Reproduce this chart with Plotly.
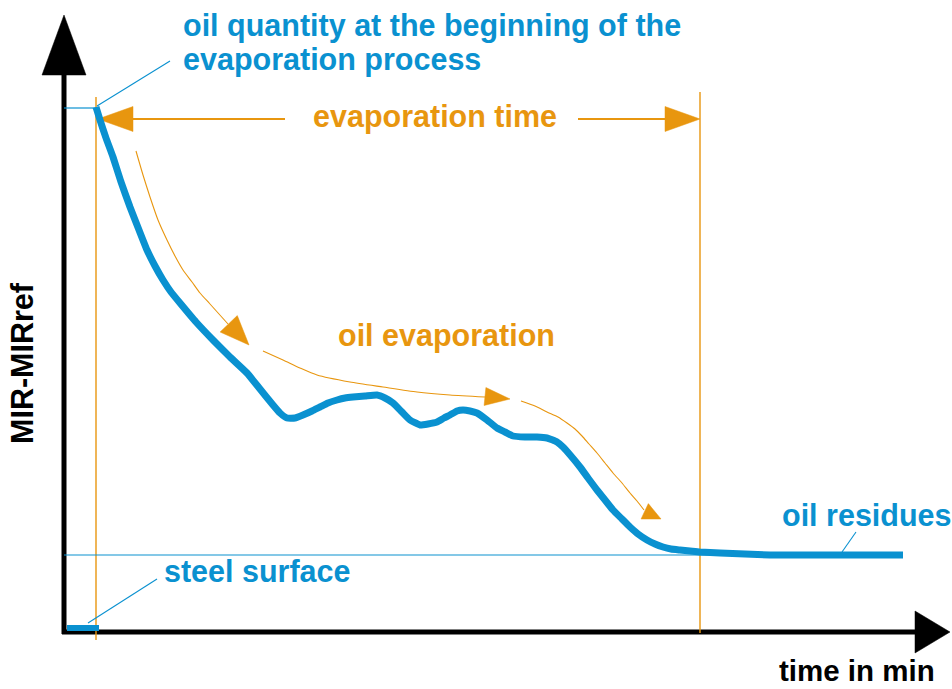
import numpy as np
import plotly.graph_objects as go

# ---- schematic data (arbitrary units: 1 unit of time / signal) ----
# MIR-MIRref signal during an oil-evaporation run
time = [32, 36, 42, 49, 57, 66, 75, 83, 91, 99, 107, 116, 132, 149, 166, 183,
        196, 209, 216, 223, 231, 239, 248, 256, 264, 273, 281, 289, 301, 313,
        321, 329, 338, 346, 356, 364, 373, 380, 386, 393, 399, 406, 413, 423,
        433, 441, 449, 461, 473, 483, 493, 499, 507, 516, 524, 533, 541, 549,
        558, 566, 574, 583, 591, 599, 607, 616, 626, 636, 656, 681, 706, 736,
        786, 839]
mir = [525, 512, 494, 475, 450, 425, 402, 382, 366, 352, 340, 329, 310, 292,
       275, 259, 243, 227, 219, 214, 214, 217, 221, 225, 229, 232, 234, 235,
       236, 237, 234, 229, 220, 212, 207, 208, 210, 214, 217, 221, 222, 221,
       219, 212, 204, 200, 196, 195, 195, 194, 190, 185, 176, 165, 154, 142,
       132, 122, 113, 105, 98, 92, 88, 85, 83, 82, 81, 80, 79, 78, 77, 77,
       77, 77]

# bare steel reference (before oil is applied)
steel_time = [3, 35]
steel_mir = [4, 4]

# characteristic levels and times
start_level = 524          # oil quantity at the beginning
residue_level = 77         # steel surface / oil residue level
evap_start = 32
evap_end = 636

# guide-arrow paths (time, signal)
guide_a_t = [72, 79, 86, 94, 103, 111, 119, 128, 136, 146, 164]
guide_a_m = [481, 457, 435, 412, 392, 376, 362, 350, 339, 328, 308]
guide_b_t = [199, 219, 236, 253, 286, 319, 353, 386, 421]
guide_b_m = [281, 272, 264, 257, 250, 245, 240, 237, 235]
guide_c_t = [457, 471, 483, 494, 503, 511, 518, 525, 533, 541, 549, 558, 566, 573, 580]
guide_c_m = [231, 226, 220, 215, 209, 203, 196, 188, 179, 169, 159, 149, 139, 131, 122]

BLUE = "#0A91D0"
ORANGE = "#E8960F"
BLACK = "#000000"
FONT = "Liberation Sans, Arial, sans-serif"

fig = go.Figure()


def line(x, y, color, width, shape="linear", smoothing=1.0):
    fig.add_trace(go.Scatter(x=x, y=y, mode="lines",
                             line=dict(color=color, width=width, shape=shape,
                                       smoothing=smoothing),
                             hoverinfo="skip", showlegend=False))


def head(tip, base, half, color):
    tip = np.array(tip, float)
    base = np.array(base, float)
    d = tip - base
    d /= np.hypot(*d)
    n = np.array([-d[1], d[0]])
    p1 = base + n * half
    p2 = base - n * half
    xs = [p1[0], tip[0], p2[0], p1[0]]
    ys = [p1[1], tip[1], p2[1], p1[1]]
    fig.add_trace(go.Scatter(x=xs, y=ys, mode="lines", fill="toself",
                             fillcolor=color, line=dict(color=color, width=0.5),
                             hoverinfo="skip", showlegend=False))


# axes drawn as arrows
line([0, 0], [-2, 557], BLACK, 5)
head((0, 617), (0, 557), 22, BLACK)
line([-2, 851], [0, 0], BLACK, 5)
head((886, 0), (851, 0), 21, BLACK)

# thin reference lines
line([evap_start, evap_start], [535, -8], ORANGE, 1.4)
line([evap_end, evap_end], [540, -1], ORANGE, 1.4)
line([0, evap_start], [start_level, start_level], BLUE, 1.2)
line([0, time[-1]], [residue_level, residue_level], BLUE, 1.2)

# leader lines for the labels
line([33, 106], [526, 571], BLUE, 1.1)
line([24, 93], [9, 53], BLUE, 1.1)
line([778, 792], [80, 100], BLUE, 1.1)

# evaporation-time double arrow
line([69, 221], [513, 513], ORANGE, 2)
line([514, 601], [513, 513], ORANGE, 2)
head((evap_start + 2, 513), (69, 513), 12.5, ORANGE)
head((evap_end, 513), (601, 513), 12.5, ORANGE)

# curved guide arrows along the signal
line(guide_a_t, guide_a_m, ORANGE, 1.1, "spline", 0.6)
head((185, 287), (164.7, 308.2), 11.9, ORANGE)
line(guide_b_t, guide_b_m, ORANGE, 1.1, "spline", 0.6)
head((446, 233), (421, 235.5), 9, ORANGE)
line(guide_c_t, guide_c_m, ORANGE, 1.1, "spline", 0.6)
head((597, 113), (580.7, 120.7), 8.5, ORANGE)

# measured signal
line(steel_time, steel_mir, BLUE, 6)
line(time, mir, BLUE, 7, "spline", 0.4)

labels = [
    ("oil quantity at the beginning of the", 118, 607, BLUE, "left", 0, 30.5),
    ("evaporation process", 118, 573, BLUE, "left", 0, 30.5),
    ("evaporation time", 248, 516, ORANGE, "left", 0, 30.5),
    ("oil evaporation", 273, 297, ORANGE, "left", 0, 30.5),
    ("steel surface", 99, 61, BLUE, "left", 0, 30.5),
    ("oil residues", 717, 117, BLUE, "left", 0, 30.5),
    ("time in min", 714, -38, BLACK, "left", 0, 29.5),
    ("MIR-MIRref", -42, 269, BLACK, "center", -90, 30.5),
]
for txt, x, y, col, xa, ang, fs in labels:
    fig.add_annotation(x=x, y=y, text=f"<b>{txt}</b>", showarrow=False,
                       xanchor=xa, yanchor="middle", textangle=ang,
                       borderpad=0,
                       font=dict(family=FONT, size=fs, color=col))

fig.update_layout(
    width=952, height=689,
    margin=dict(l=0, r=0, t=0, b=0),
    paper_bgcolor="white", plot_bgcolor="white",
    xaxis=dict(range=[-64, 888], visible=False, fixedrange=True),
    yaxis=dict(range=[-57, 632], visible=False, fixedrange=True),
)

fig.write_html("out.html")
